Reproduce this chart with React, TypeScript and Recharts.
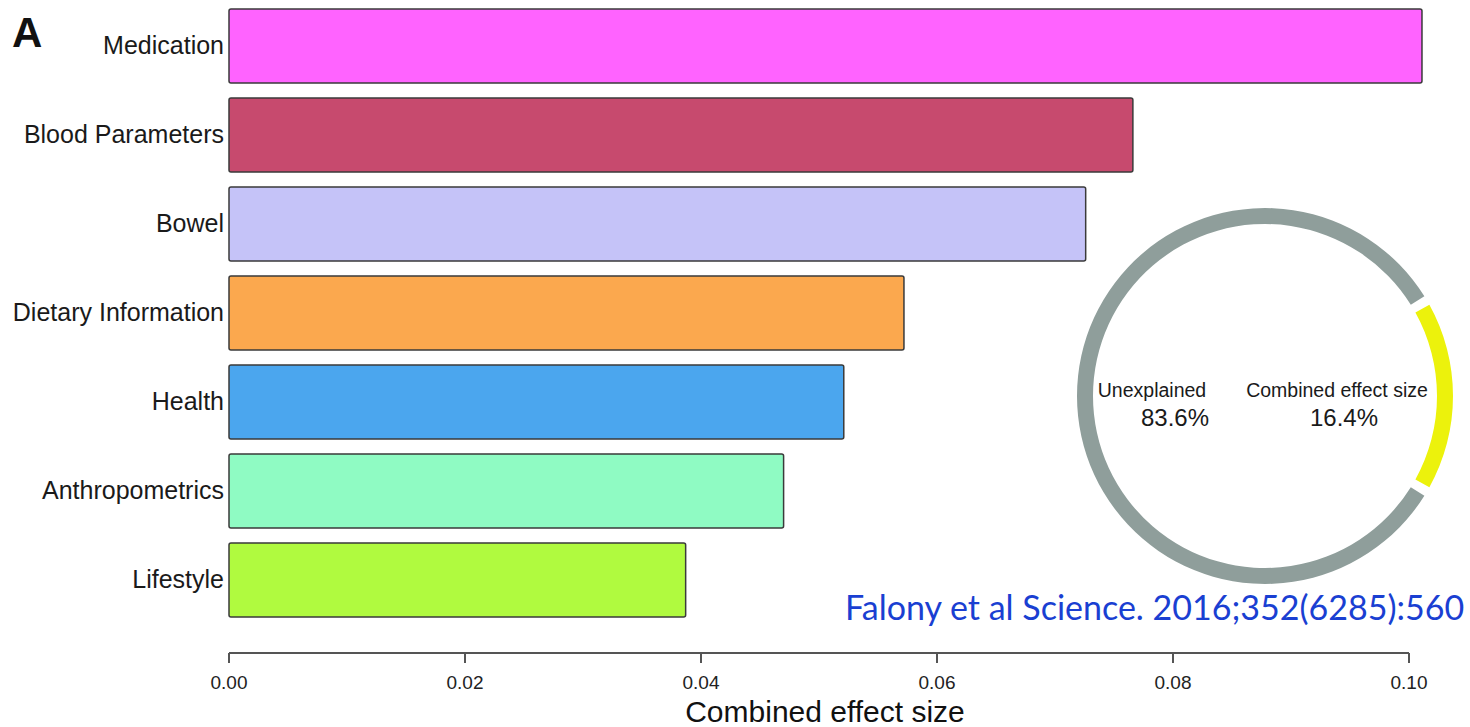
import { Bar, BarChart, Cell, Label, Pie, PieChart, XAxis, YAxis } from 'recharts';

const categories = [
  'Medication',
  'Blood Parameters',
  'Bowel',
  'Dietary Information',
  'Health',
  'Anthropometrics',
  'Lifestyle',
];
const effectSizes = [0.1011, 0.0766, 0.0726, 0.0572, 0.0521, 0.047, 0.0387];
const barColors = ['#FF63FF', '#C74A6E', '#C5C3F8', '#FBA84E', '#4BA6EE', '#8FFBC3', '#B0FA3F'];
const xTicks = [0, 0.02, 0.04, 0.06, 0.08, 0.1];

const donutNames = ['Combined effect size', 'Unexplained'];
const donutValues = [16.4, 83.6];
const donutColors = ['#ECF20C', '#8F9E9B'];

const barData = categories.map((name, i) => ({ name, value: effectSizes[i] }));
const donutData = donutNames.map((name, i) => ({ name, value: donutValues[i] }));

const PAD = 3;
const donutStart = -((donutValues[0] / 100) * (360 - 2 * PAD)) / 2;

// bars use a domain a little past 0.10 so Medication fits; the drawn axis stops at 0.10
const BAR_MAX = 0.102;
const AXIS_MAX = 0.1;
const PLOT_LEFT = 229;
const AXIS_RIGHT_MARGIN = 61;
const barRightMargin = 1470 - PLOT_LEFT - (1470 - PLOT_LEFT - AXIS_RIGHT_MARGIN) * (BAR_MAX / AXIS_MAX);

const font = '"Liberation Sans", Arial, Helvetica, sans-serif';

function DonutLabel(props: any) {
  const { cx, cy, name, value, index } = props;
  // text sits inside the ring: combined share on the right, unexplained on the left
  const nameDx = index === 0 ? 72 : -113;
  const valueDx = index === 0 ? 79 : -90;
  return (
    <g fontFamily={font} fill="#1a1a1a" textAnchor="middle">
      <text x={cx + nameDx} y={cy + 1} fontSize={19.5}>{name}</text>
      <text x={cx + valueDx} y={cy + 30} fontSize={24}>{value.toFixed(1)}%</text>
    </g>
  );
}

export default function App() {
  return (
    <div style={{ position: 'absolute', left: 0, top: 0, width: 1470, height: 727, background: '#fff', fontFamily: font }}>
      <BarChart
        width={1470}
        height={727}
        data={barData}
        layout="vertical"
        margin={{ top: 1, right: barRightMargin, bottom: 74, left: 0 }}
      >
        <XAxis type="number" dataKey="value" domain={[0, BAR_MAX]} hide />
        <YAxis
          type="category"
          dataKey="name"
          width={PLOT_LEFT}
          axisLine={false}
          tickLine={false}
          tickSize={0}
          tickMargin={5}
          padding={{ top: 0, bottom: 29 }}
          tick={{ fontSize: 25, fill: '#1a1a1a' }}
          interval={0}
        />
        <Bar dataKey="value" barSize={74} stroke="#3a3a3a" strokeWidth={1.5} radius={2} isAnimationActive={false}>
          {barData.map((d, i) => (
            <Cell key={d.name} fill={barColors[i]} />
          ))}
        </Bar>
      </BarChart>

      {/* axis overlay: same scale, axis line from 0.00 to 0.10 only */}
      <div style={{ position: 'absolute', left: 0, top: 0, pointerEvents: 'none' }}>
        <BarChart
          width={1470}
          height={727}
          data={barData}
          layout="vertical"
          margin={{ top: 1, right: AXIS_RIGHT_MARGIN, bottom: 0, left: PLOT_LEFT }}
        >
          <XAxis
            type="number"
            dataKey="value"
            domain={[0, AXIS_MAX]}
            allowDataOverflow
            ticks={xTicks}
            tickFormatter={(v: number) => v.toFixed(2)}
            axisLine={{ stroke: '#555', strokeWidth: 2 }}
            tickSize={10}
            tickMargin={13}
            tickLine={{ stroke: '#555', strokeWidth: 2 }}
            tick={{ fontSize: 19, fill: '#222' }}
            height={74}
            interval={0}
          >
            <Label value="Combined effect size" position="insideBottom" offset={5} dx={6} fontSize={30} fill="#111" />
          </XAxis>
          <YAxis type="category" dataKey="name" hide />
        </BarChart>
      </div>

      <div style={{ position: 'absolute', left: 1065, top: 196 }}>
        <PieChart width={400} height={400} margin={{ top: 0, right: 0, bottom: 0, left: 0 }}>
          <Pie
            data={donutData}
            dataKey="value"
            nameKey="name"
            cx="50%"
            cy="50%"
            innerRadius={172}
            outerRadius={188}
            startAngle={donutStart}
            endAngle={donutStart + 360}
            paddingAngle={PAD}
            stroke="none"
            label={DonutLabel}
            labelLine={false}
            isAnimationActive={false}
          >
            {donutData.map((d, i) => (
              <Cell key={d.name} fill={donutColors[i]} />
            ))}
          </Pie>
        </PieChart>
      </div>

      <div style={{ position: 'absolute', left: 12, top: 12, fontSize: 42, lineHeight: '42px', fontWeight: 700, color: '#111' }}>
        A
      </div>
      <div
        style={{
          position: 'absolute',
          left: 845,
          top: 587,
          fontFamily: 'Lato, "Open Sans", sans-serif',
          fontSize: 34,
          lineHeight: '40px',
          color: '#1A3FD2',
          whiteSpace: 'nowrap',
        }}
      >
        Falony et al Science. 2016;352(6285):560
      </div>
    </div>
  );
}
